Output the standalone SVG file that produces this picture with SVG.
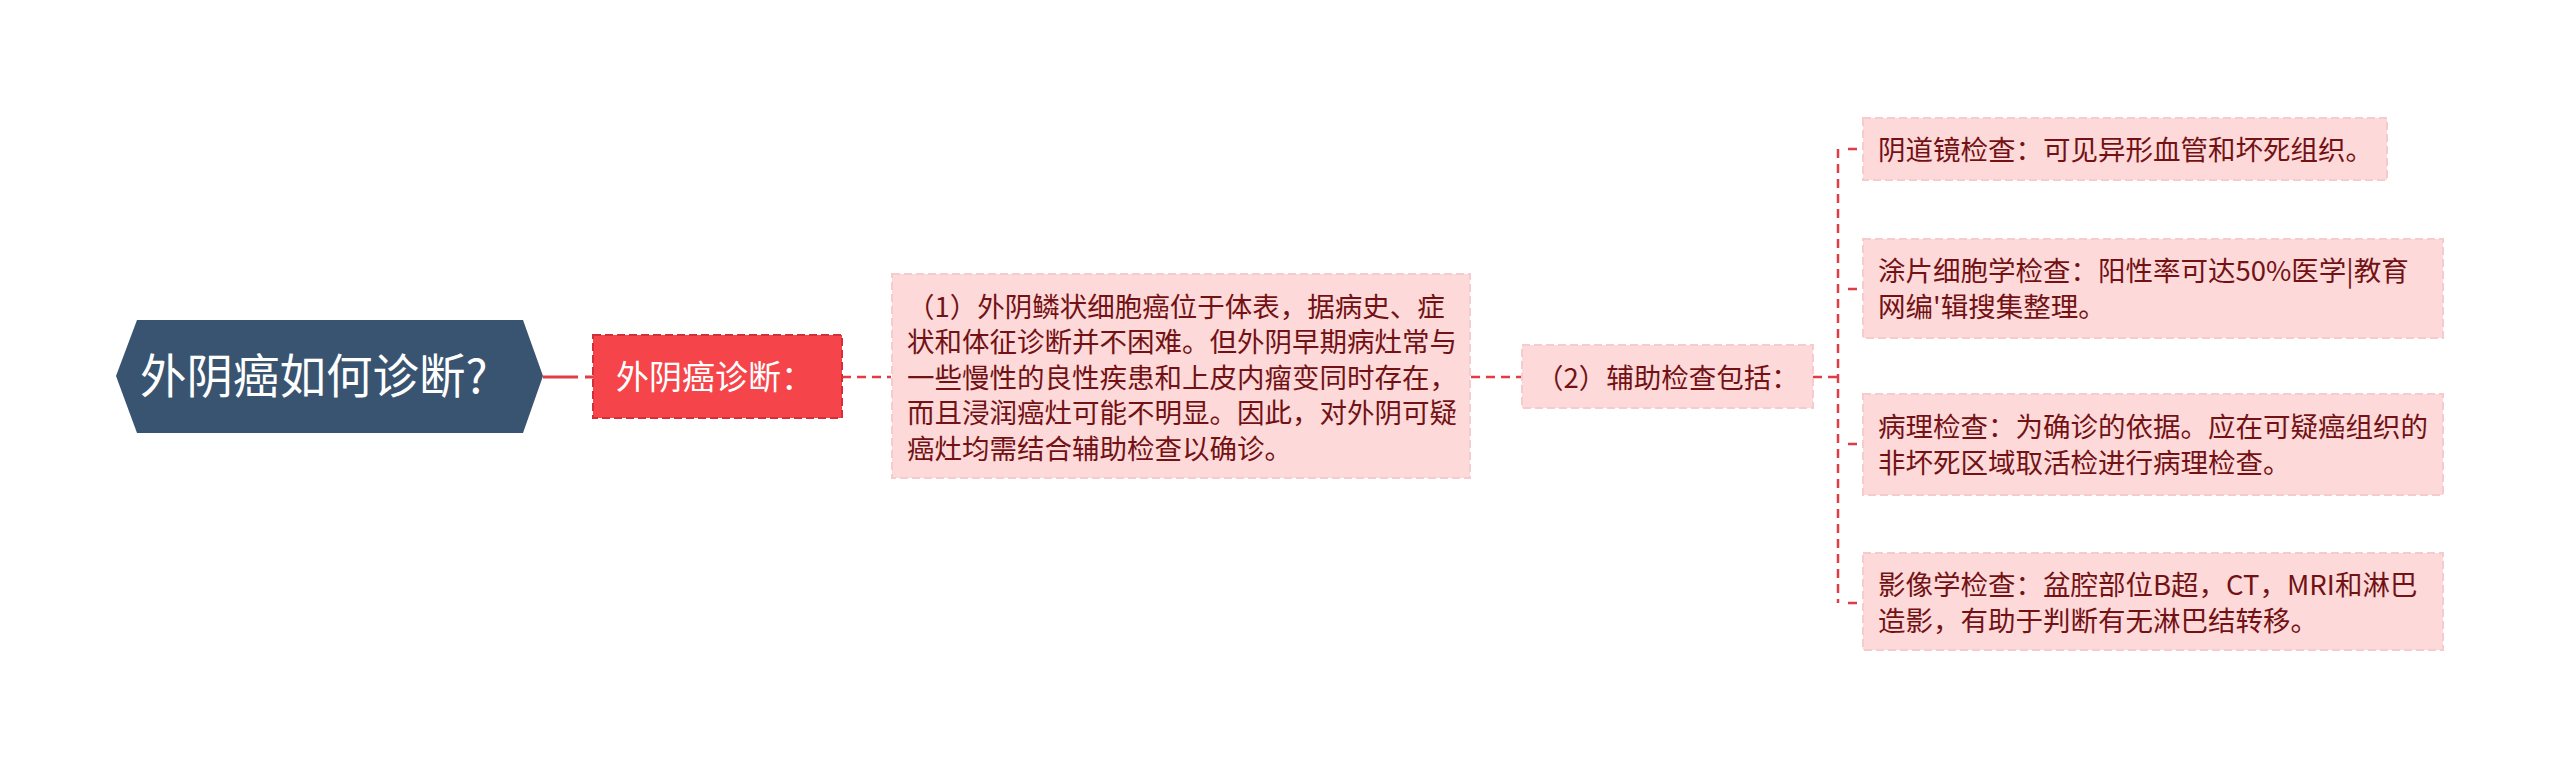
<svg xmlns="http://www.w3.org/2000/svg" width="2560" height="771" viewBox="0 0 2560 771">
<style>
text{font-family:"Noto Sans CJK SC","Microsoft YaHei",sans-serif;}
.pink{fill:#fdd9da;stroke:#f6cbcd;stroke-width:2;stroke-dasharray:8,4;}
.t{font-size:27.5px;fill:#731214;}
.dash{fill:none;stroke:#e03c45;stroke-width:2.5;stroke-dasharray:9,6;}
</style>
<rect width="2560" height="771" fill="#ffffff"/>
<g id="connectors">
<path d="M543,377 H593" fill="none" stroke="#e03c45" stroke-width="3" stroke-dasharray="35,7,8,100"/>
<path class="dash" d="M842,377 H891"/>
<path class="dash" d="M1471,377 H1521"/>
<path class="dash" d="M1813,377 H1838"/>
<path class="dash" d="M1838,149 V603" stroke-dasharray="11,8"/>
<path class="dash" d="M1848,149 H1857 M1848,289 H1857 M1848,444 H1857 M1848,603 H1857" stroke-dasharray="none"/>
</g>
<g id="root">
<polygon points="116,376 137,320 523,320 543,376 523,433 137,433" fill="#395470"/>
<text x="140" y="393" font-size="46.5" fill="#ffffff">外阴癌如何诊断?</text>
</g>
<g id="n-diag">
<rect x="593" y="335" width="249" height="83" fill="#f5454a" stroke="#d22f38" stroke-width="2" stroke-dasharray="8,4"/>
<text x="715" y="389" font-size="33" fill="#ffffff" text-anchor="middle">外阴癌诊断：</text>
</g>
<g id="n1">
<rect class="pink" x="892" y="274" width="578" height="204"/>
<text class="t" x="907" y="316.5">（1）外阴鳞状细胞癌位于体表，据病史、症</text>
<text class="t" x="907" y="352">状和体征诊断并不困难。但外阴早期病灶常与</text>
<text class="t" x="907" y="387.5">一些慢性的良性疾患和上皮内瘤变同时存在，</text>
<text class="t" x="907" y="423">而且浸润癌灶可能不明显。因此，对外阴可疑</text>
<text class="t" x="907" y="458.5">癌灶均需结合辅助检查以确诊。</text>
</g>
<g id="n2">
<rect class="pink" x="1522" y="345" width="291" height="63"/>
<text class="t" x="1667.5" y="387.5" text-anchor="middle">（2）辅助检查包括：</text>
</g>
<g id="c1">
<rect class="pink" x="1863" y="118" width="524" height="62"/>
<text class="t" x="1878" y="159.5">阴道镜检查：可见异形血管和坏死组织。</text>
</g>
<g id="c2">
<rect class="pink" x="1863" y="239" width="580" height="99"/>
<text class="t" x="1878" y="281">涂片细胞学检查：阳性率可达50%医学|教育</text>
<text class="t" x="1878" y="317">网编'辑搜集整理。</text>
</g>
<g id="c3">
<rect class="pink" x="1863" y="394" width="580" height="101"/>
<text class="t" x="1878" y="436.5">病理检查：为确诊的依据。应在可疑癌组织的</text>
<text class="t" x="1878" y="472.5">非坏死区域取活检进行病理检查。</text>
</g>
<g id="c4">
<rect class="pink" x="1863" y="553" width="580" height="97"/>
<text class="t" x="1878" y="595">影像学检查：盆腔部位B超，CT，MRI和淋巴</text>
<text class="t" x="1878" y="631">造影，有助于判断有无淋巴结转移。</text>
</g>
</svg>
